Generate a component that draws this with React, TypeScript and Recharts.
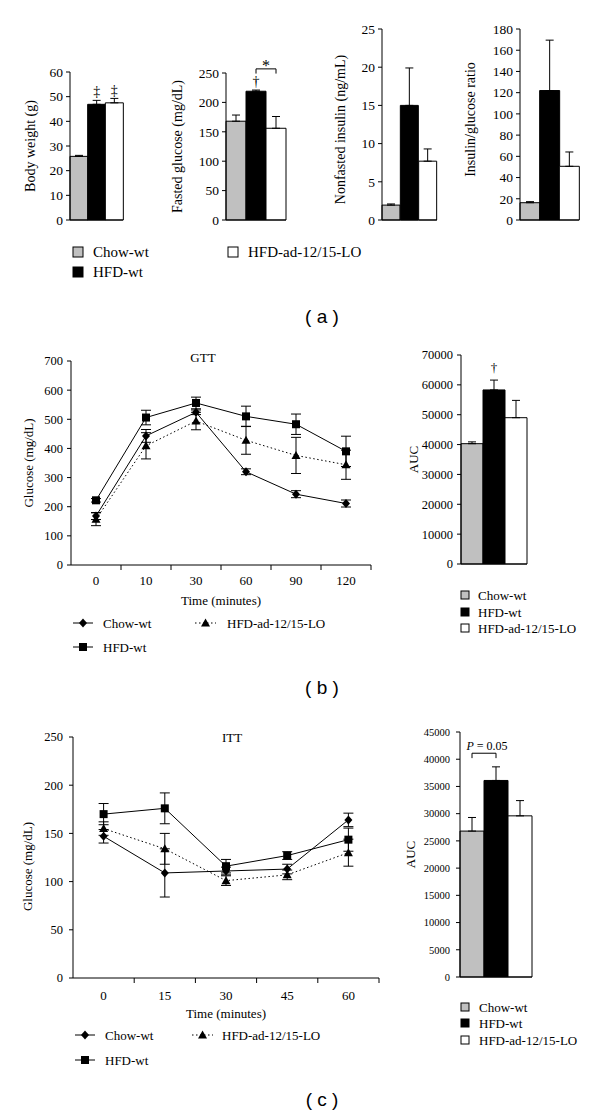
import React from "react";
import {
  Bar,
  BarChart,
  Cell,
  ErrorBar,
  LabelList,
  Line,
  LineChart,
  ReferenceLine,
  XAxis,
  YAxis,
} from "recharts";

const SERIF = '"Liberation Serif", "Times New Roman", serif';
const SANS = '"Liberation Sans", Arial, sans-serif';

// groups shared by every panel
const groups = ["Chow-wt", "HFD-wt", "HFD-ad-12/15-LO"];
const groupFills = ["#c0c0c0", "#000000", "#ffffff"];

// (a)
const bodyWeight = [25.8, 46.9, 47.5];
const bodyWeightErr = [0.4, 1.6, 1.8];
const bodyWeightMarks = ["", "‡", "‡"];
const bodyWeightTicks = [0, 10, 20, 30, 40, 50, 60];

const fastedGlucose = [168, 219, 156];
const fastedGlucoseErr = [10.5, 2, 20];
const fastedGlucoseMarks = ["", "†", ""];
const fastedGlucoseTicks = [0, 50, 100, 150, 200, 250];

const insulin = [1.95, 15.0, 7.7];
const insulinErr = [0.15, 4.9, 1.6];
const insulinTicks = [0, 5, 10, 15, 20, 25];

const insulinRatio = [16.3, 122, 50.6];
const insulinRatioErr = [1, 47.5, 13.5];
const insulinRatioTicks = [0, 20, 40, 60, 80, 100, 120, 140, 160, 180];

// (b) GTT
const gttTimes = ["0", "10", "30", "60", "90", "120"];
const gttChow = [168, 443, 524, 320, 243, 211];
const gttChowErr = [12, 22, 8, 10, 12, 12];
const gttHfd = [222, 506, 556, 510, 483, 390];
const gttHfdErr = [6, 25, 20, 35, 35, 52];
const gttLo = [157, 409, 494, 428, 376, 344];
const gttLoErr = [22, 45, 30, 48, 62, 50];
const gttTicks = [0, 100, 200, 300, 400, 500, 600, 700];

const gttAuc = [40300, 58300, 49000];
const gttAucErr = [600, 3300, 5800];
const gttAucMarks = ["", "†", ""];
const gttAucTicks = [0, 10000, 20000, 30000, 40000, 50000, 60000, 70000];

// (c) ITT
const ittTimes = ["0", "15", "30", "45", "60"];
const ittChow = [147, 109, 111, 113, 164];
const ittChowErr = [7, 25, 4, 5, 7];
const ittHfd = [170, 176, 116, 127, 143.5];
const ittHfdErr = [11, 16, 7, 4, 12];
const ittLo = [155, 134, 101, 107, 130];
const ittLoErr = [7, 16, 5, 5, 14];
const ittTicks = [0, 50, 100, 150, 200, 250];

const ittAuc = [26800, 36100, 29600];
const ittAucErr = [2500, 2500, 2800];
const ittAucTicks = [0, 5000, 10000, 15000, 20000, 25000, 30000, 35000, 40000, 45000];
const ittPValue = "0.05";

type Shape = "diamond" | "square" | "triangle";

interface SeriesDef {
  readonly key: string;
  readonly name: string;
  readonly values: number[];
  readonly errs: number[];
  readonly shape: Shape;
  readonly dotted: boolean;
}

function barRows(values: number[], errs: number[], marks: string[] = []) {
  return groups.map((g, i) => ({
    name: g,
    value: values[i],
    err: [0, errs[i]],
    mark: marks[i] ?? "",
  }));
}

function Marker({ shape, cx, cy }: { shape: Shape; cx: number; cy: number }) {
  if (shape === "square") return <rect x={cx - 4} y={cy - 4} width={8} height={8} fill="#000" />;
  if (shape === "triangle")
    return <path d={`M${cx},${cy - 4.5}L${cx + 4.5},${cy + 3.5}L${cx - 4.5},${cy + 3.5}Z`} fill="#000" />;
  return <path d={`M${cx},${cy - 4.5}L${cx + 4},${cy}L${cx},${cy + 4.5}L${cx - 4},${cy}Z`} fill="#000" />;
}

function BandTick(props: any) {
  const { x, y, payload, band, fontSize, textDy } = props;
  return (
    <g>
      <line x1={x + band / 2} x2={x + band / 2} y1={y} y2={y + 5} stroke="#000" />
      <text x={x} y={y + textDy} textAnchor="middle" fontSize={fontSize} fill="#000" fontFamily={SERIF}>
        {payload.value}
      </text>
    </g>
  );
}

// rotated y-axis title, centred on the axis box plus an optional shift
const axisLabel = (text: string, offset: number, fontSize: number, shift = 0) => (props: any) => {
  const vb = props.viewBox;
  const x = vb.x + offset;
  const y = vb.y + vb.height / 2 + shift;
  return (
    <text
      x={x}
      y={y}
      transform={`rotate(-90, ${x}, ${y})`}
      textAnchor="middle"
      dominantBaseline="central"
      fontSize={fontSize}
      fill="#000"
      fontFamily={SERIF}
    >
      {text}
    </text>
  );
};

const markLabel = (offset: number, fontSize: number) => (props: any) => {
  if (!props.value) return null;
  return (
    <text
      x={props.x + props.width / 2}
      y={props.y - offset}
      textAnchor="middle"
      fontSize={fontSize}
      fill="#000"
      fontFamily={SERIF}
    >
      {props.value}
    </text>
  );
};

interface BarPanelProps {
  left: number;
  top: number;
  width: number;
  height: number;
  margin: { top: number; right: number; left: number; bottom: number };
  yWidth: number;
  ticks: number[];
  label: string;
  labelOffset: number;
  labelShift?: number;
  tickFont: number;
  tickMargin: number;
  labelFont: number;
  rows: ReturnType<typeof barRows>;
  markOffset?: number;
  markFont?: number;
  extras?: React.ReactNode[];
}

function BarPanel(p: BarPanelProps) {
  return (
    <div style={{ position: "absolute", left: p.left, top: p.top }}>
      <BarChart width={p.width} height={p.height} data={p.rows} margin={p.margin} barCategoryGap={0} barGap={0}>
        <XAxis dataKey="name" tick={false} tickLine={false} axisLine={{ stroke: "#000" }} height={5} />
        <YAxis
          domain={[0, p.ticks[p.ticks.length - 1]]}
          ticks={p.ticks}
          interval={0}
          width={p.yWidth}
          tickSize={4}
          tickMargin={p.tickMargin}
          axisLine={{ stroke: "#000" }}
          tickLine={{ stroke: "#000" }}
          tick={{ fontSize: p.tickFont, fill: "#000", fontFamily: SERIF }}
          label={axisLabel(p.label, p.labelOffset, p.labelFont, p.labelShift ?? 0)}
        />
        <Bar dataKey="value" stroke="#000" strokeWidth={1} isAnimationActive={false}>
          {p.rows.map((r, i) => (
            <Cell key={r.name} fill={groupFills[i]} />
          ))}
          <ErrorBar dataKey="err" width={4} stroke="#000" strokeWidth={1} />
          {p.markOffset !== undefined && (
            <LabelList dataKey="mark" content={markLabel(p.markOffset, p.markFont ?? 14)} />
          )}
        </Bar>
        {p.extras}
      </BarChart>
    </div>
  );
}

interface LinePanelProps {
  left: number;
  top: number;
  width: number;
  height: number;
  margin: { top: number; right: number; left: number; bottom: number };
  yWidth: number;
  ticks: number[];
  times: string[];
  series: SeriesDef[];
  band: number;
  labelOffset: number;
  labelShift: number;
  tickMargin: number;
  textDy: number;
}

function LinePanel(p: LinePanelProps) {
  const rows = p.times.map((t, i) => {
    const row: Record<string, string | number> = { t };
    for (const s of p.series) {
      row[s.key] = s.values[i];
      row[`${s.key}Err`] = s.errs[i];
    }
    return row;
  });
  return (
    <div style={{ position: "absolute", left: p.left, top: p.top }}>
      <LineChart width={p.width} height={p.height} data={rows} margin={p.margin}>
        <XAxis
          dataKey="t"
          scale="band"
          interval={0}
          height={40}
          tickSize={0}
          tickMargin={0}
          tickLine={false}
          axisLine={{ stroke: "#000" }}
          tick={(tp: any) => <BandTick {...tp} band={p.band} fontSize={13} textDy={p.textDy} />}
          label={{
            value: "Time (minutes)",
            position: "insideBottom",
            offset: 0,
            style: { fontSize: 13, fill: "#000", fontFamily: SERIF },
          }}
        />
        <YAxis
          domain={[0, p.ticks[p.ticks.length - 1]]}
          ticks={p.ticks}
          interval={0}
          width={p.yWidth}
          tickSize={4}
          tickMargin={p.tickMargin}
          axisLine={{ stroke: "#000" }}
          tickLine={{ stroke: "#000" }}
          tick={{ fontSize: 12.5, fill: "#000", fontFamily: SERIF }}
          label={axisLabel("Glucose (mg/dL)", p.labelOffset, 13, p.labelShift)}
        />
        {p.series.map((s) => (
          <Line
            key={s.key}
            dataKey={s.key}
            stroke="#000"
            strokeWidth={1}
            strokeDasharray={s.dotted ? "1.5 2.5" : undefined}
            isAnimationActive={false}
            activeDot={false}
            dot={(dp: any) => <Marker key={`${s.key}-${dp.index}`} shape={s.shape} cx={dp.cx} cy={dp.cy} />}
          >
            <ErrorBar dataKey={`${s.key}Err`} width={5} stroke="#000" strokeWidth={1} direction="y" />
          </Line>
        ))}
      </LineChart>
    </div>
  );
}

function BoxKey({ x, y, size, fill, label, textX, fontSize }: any) {
  return (
    <g>
      <rect x={x - size / 2} y={y - size / 2} width={size} height={size} fill={fill} stroke="#000" />
      <text x={textX} y={y + fontSize * 0.35} fontSize={fontSize}>
        {label}
      </text>
    </g>
  );
}

function LineKey({ x1, x2, y, shape, dotted, label, textX }: any) {
  return (
    <g>
      <line x1={x1} x2={x2} y1={y} y2={y} stroke="#000" strokeDasharray={dotted ? "1.5 2.5" : undefined} />
      <Marker shape={shape} cx={(x1 + x2) / 2} cy={y} />
      <text x={textX} y={y + 13 * 0.35} fontSize={13}>
        {label}
      </text>
    </g>
  );
}

const pLabel = (props: any) => {
  const vb = props.viewBox;
  return (
    <text x={vb.x + vb.width / 2 + 3} y={vb.y - 3} textAnchor="middle" fontSize={12} fill="#000" fontFamily={SERIF}>
      <tspan fontStyle="italic">P</tspan> = {ittPValue}
    </text>
  );
};

export default function App() {
  const gttSeries: SeriesDef[] = [
    { key: "chow", name: groups[0], values: gttChow, errs: gttChowErr, shape: "diamond", dotted: false },
    { key: "lo", name: groups[2], values: gttLo, errs: gttLoErr, shape: "triangle", dotted: true },
    { key: "hfd", name: groups[1], values: gttHfd, errs: gttHfdErr, shape: "square", dotted: false },
  ];
  const ittSeries: SeriesDef[] = [
    { key: "chow", name: groups[0], values: ittChow, errs: ittChowErr, shape: "diamond", dotted: false },
    { key: "lo", name: groups[2], values: ittLo, errs: ittLoErr, shape: "triangle", dotted: true },
    { key: "hfd", name: groups[1], values: ittHfd, errs: ittHfdErr, shape: "square", dotted: false },
  ];

  return (
    <div
      style={{
        position: "absolute",
        left: 0,
        top: 0,
        width: 600,
        height: 1117,
        background: "#fff",
        fontFamily: SERIF,
        overflow: "hidden",
      }}
    >
      {/* (a) */}
      <BarPanel
        left={0}
        top={50}
        width={130}
        height={180}
        margin={{ top: 22, right: 7, left: 20, bottom: 5 }}
        yWidth={50}
        ticks={bodyWeightTicks}
        label="Body weight (g)"
        labelOffset={10}
        tickFont={13.5}
        tickMargin={3}
        labelFont={14}
        rows={barRows(bodyWeight, bodyWeightErr, bodyWeightMarks)}
        markOffset={8}
      />
      <BarPanel
        left={150}
        top={50}
        width={142}
        height={180}
        margin={{ top: 23, right: 6, left: 16, bottom: 5 }}
        yWidth={60}
        ticks={fastedGlucoseTicks}
        label="Fasted glucose (mg/dL)"
        labelOffset={11}
        tickFont={13.5}
        tickMargin={3}
        labelFont={14}
        rows={barRows(fastedGlucose, fastedGlucoseErr, fastedGlucoseMarks)}
        markOffset={5}
        extras={[
          <ReferenceLine
            key="h"
            segment={[{ x: groups[1], y: 257 }, { x: groups[2], y: 257 }]}
            stroke="#000"
            ifOverflow="visible"
            label={{ value: "*", position: "top", offset: -2, fontSize: 16, fill: "#000", fontFamily: SERIF }}
          />,
          <ReferenceLine
            key="l"
            segment={[{ x: groups[1], y: 257 }, { x: groups[1], y: 249 }]}
            stroke="#000"
            ifOverflow="visible"
          />,
          <ReferenceLine
            key="r"
            segment={[{ x: groups[2], y: 257 }, { x: groups[2], y: 249 }]}
            stroke="#000"
            ifOverflow="visible"
          />,
        ]}
      />
      <BarPanel
        left={320}
        top={10}
        width={121}
        height={220}
        margin={{ top: 19, right: 4, left: 10, bottom: 5 }}
        yWidth={52}
        ticks={insulinTicks}
        label="Nonfasted insulin (ng/mL)"
        labelOffset={10}
        labelShift={5}
        tickFont={13.5}
        tickMargin={3}
        labelFont={14}
        rows={barRows(insulin, insulinErr)}
      />
      <BarPanel
        left={455}
        top={10}
        width={129}
        height={220}
        margin={{ top: 19, right: 5, left: 5, bottom: 5 }}
        yWidth={60}
        ticks={insulinRatioTicks}
        label="Insulin/glucose ratio"
        labelOffset={10}
        labelShift={-5}
        tickFont={13.5}
        tickMargin={3}
        labelFont={14}
        rows={barRows(insulinRatio, insulinRatioErr)}
      />

      {/* (b) */}
      <LinePanel
        left={0}
        top={340}
        width={380}
        height={270}
        margin={{ top: 21, right: 9, left: 10, bottom: 5 }}
        yWidth={61}
        ticks={gttTicks}
        times={gttTimes}
        series={gttSeries}
        band={50}
        labelOffset={18}
        labelShift={0}
        tickMargin={4}
        textDy={19.5}
      />
      <BarPanel
        left={400}
        top={330}
        width={132}
        height={244}
        margin={{ top: 25, right: 5, left: 3, bottom: 5 }}
        yWidth={58}
        ticks={gttAucTicks}
        label="AUC"
        labelOffset={10}
        tickFont={12.5}
        tickMargin={4}
        labelFont={13}
        rows={barRows(gttAuc, gttAucErr, gttAucMarks)}
        markOffset={18}
        markFont={13}
      />

      {/* (c) */}
      <LinePanel
        left={0}
        top={715}
        width={387}
        height={308}
        margin={{ top: 22, right: 8, left: 10, bottom: 5 }}
        yWidth={63}
        ticks={ittTicks}
        times={ittTimes}
        series={ittSeries}
        band={61.2}
        labelOffset={17}
        labelShift={9}
        tickMargin={6}
        textDy={21.5}
      />
      <BarPanel
        left={398}
        top={710}
        width={139}
        height={277}
        margin={{ top: 22, right: 5, left: 2, bottom: 5 }}
        yWidth={60}
        ticks={ittAucTicks}
        label="AUC"
        labelOffset={10}
        tickFont={10.5}
        tickMargin={6}
        labelFont={13}
        rows={barRows(ittAuc, ittAucErr)}
        extras={[
          <ReferenceLine
            key="h"
            segment={[{ x: groups[0], y: 41100 }, { x: groups[1], y: 41100 }]}
            stroke="#000"
            ifOverflow="visible"
            label={pLabel}
          />,
          <ReferenceLine
            key="l"
            segment={[{ x: groups[0], y: 41100 }, { x: groups[0], y: 40200 }]}
            stroke="#000"
            ifOverflow="visible"
          />,
          <ReferenceLine
            key="r"
            segment={[{ x: groups[1], y: 41100 }, { x: groups[1], y: 40200 }]}
            stroke="#000"
            ifOverflow="visible"
          />,
        ]}
      />

      {/* titles, legends and panel letters */}
      <svg
        width={600}
        height={1117}
        style={{ position: "absolute", left: 0, top: 0, pointerEvents: "none", fontFamily: SERIF }}
      >
        <g fill="#000">
          <BoxKey x={78} y={252} size={10} fill={groupFills[0]} label={groups[0]} textX={93} fontSize={15} />
          <BoxKey x={78} y={272} size={10} fill={groupFills[1]} label={groups[1]} textX={93} fontSize={15} />
          <BoxKey x={233} y={252} size={10} fill={groupFills[2]} label={groups[2]} textX={248} fontSize={15} />

          <text x={203} y={361.5} textAnchor="middle" fontSize={13}>GTT</text>
          <LineKey x1={73} x2={93} y={623} shape="diamond" label={groups[0]} textX={103} />
          <LineKey x1={195} x2={216} y={623} shape="triangle" dotted label={groups[2]} textX={227} />
          <LineKey x1={73} x2={93} y={647} shape="square" label={groups[1]} textX={103} />
          <BoxKey x={465} y={595} size={8} fill={groupFills[0]} label={groups[0]} textX={478} fontSize={13} />
          <BoxKey x={465} y={612} size={8} fill={groupFills[1]} label={groups[1]} textX={478} fontSize={13} />
          <BoxKey x={465} y={628} size={8} fill={groupFills[2]} label={groups[2]} textX={478} fontSize={13} />

          <text x={232} y={741.5} textAnchor="middle" fontSize={13}>ITT</text>
          <LineKey x1={75} x2={95} y={1035} shape="diamond" label={groups[0]} textX={105} />
          <LineKey x1={192} x2={213} y={1035} shape="triangle" dotted label={groups[2]} textX={222} />
          <LineKey x1={75} x2={95} y={1060} shape="square" label={groups[1]} textX={105} />
          <BoxKey x={465} y={1007} size={8} fill={groupFills[0]} label={groups[0]} textX={479} fontSize={13} />
          <BoxKey x={465} y={1023} size={8} fill={groupFills[1]} label={groups[1]} textX={479} fontSize={13} />
          <BoxKey x={465} y={1040} size={8} fill={groupFills[2]} label={groups[2]} textX={479} fontSize={13} />

          <g fontFamily={SANS} fontSize={19} textAnchor="middle">
            <text x={322} y={323}>( a )</text>
            <text x={322} y={694}>( b )</text>
            <text x={322} y={1106}>( c )</text>
          </g>
        </g>
      </svg>
    </div>
  );
}
